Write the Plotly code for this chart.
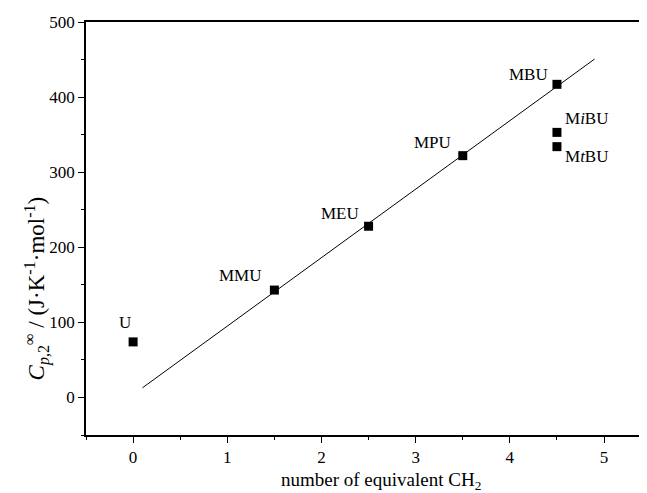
import plotly.graph_objects as go

# Data
labels = ["U", "MMU", "MEU", "MPU", "MBU", "M<i>i</i>BU", "M<i>t</i>BU"]
x_vals = [0, 1.5, 2.5, 3.5, 4.5, 4.5, 4.5]
y_vals = [74, 143, 228, 322, 417, 353, 334]
fit_x = [0.1, 4.9]
fit_y = [12.9, 450.7]
x_ticks = [0, 1, 2, 3, 4, 5]
y_ticks = [0, 100, 200, 300, 400, 500]
x_title = "number of equivalent CH<sub>2</sub>"
y_title = "<i>C</i><sub><i>p</i>,2</sub><sup>∞</sup> / (J·K<sup>-1</sup>·mol<sup>-1</sup>)"

# label placement (style): xanchor, xshift, yshift
label_style = [
    ("center", -8, 19),
    ("right", -10, 15),
    ("right", -8, 13),
    ("right", -10, 13),
    ("right", -7, 10),
    ("left", 6, 14),
    ("left", 6, -10),
]

font_family = "Liberation Serif, Times New Roman, serif"

fig = go.Figure()
fig.add_trace(go.Scatter(x=fit_x, y=fit_y, mode="lines",
                         line=dict(color="black", width=1), showlegend=False,
                         hoverinfo="skip"))
fig.add_trace(go.Scatter(x=x_vals, y=y_vals, mode="markers",
                         marker=dict(symbol="square", size=9, color="black"),
                         showlegend=False))

for lab, xv, yv, (xa, xs, ys) in zip(labels, x_vals, y_vals, label_style):
    fig.add_annotation(x=xv, y=yv, text=lab, showarrow=False,
                       xanchor=xa, yanchor="middle", xshift=xs, yshift=ys,
                       font=dict(family=font_family, size=17, color="black"))

# axis titles as annotations for precise placement
fig.add_annotation(xref="paper", yref="paper", x=0.526, y=0, yshift=-46,
                   xanchor="center", yanchor="middle", showarrow=False,
                   text=x_title, font=dict(family=font_family, size=19, color="black"))
fig.add_annotation(xref="paper", yref="paper", x=0, y=0.355, xshift=-49,
                   xanchor="center", yanchor="middle", showarrow=False, textangle=-90,
                   text=y_title, font=dict(family=font_family, size=23, color="black"))

fig.update_layout(
    width=639, height=485,
    margin=dict(l=78, r=0, t=14, b=58, autoexpand=False),
    paper_bgcolor="white", plot_bgcolor="white",
    font=dict(family=font_family, size=17, color="black"),
    xaxis=dict(
        range=[-0.5, 5.456], tickvals=x_ticks, automargin=False,
        ticks="outside", ticklen=6, tickwidth=1.2, tickcolor="black",
        minor=dict(dtick=0.5, tick0=0, ticks="outside", ticklen=3, tickcolor="black", tickwidth=1.2),
        showline=True, linecolor="black", linewidth=1.5, mirror=True,
        showgrid=False, zeroline=False,
    ),
    yaxis=dict(
        range=[-50, 500], tickvals=y_ticks, automargin=False,
        ticks="outside", ticklen=6, tickwidth=1.2, tickcolor="black",
        minor=dict(dtick=50, tick0=0, ticks="outside", ticklen=3, tickcolor="black", tickwidth=1.2),
        showline=True, linecolor="black", linewidth=1.5, mirror=False,
        showgrid=False, zeroline=False,
    ),
)

fig.write_html("out.html")
